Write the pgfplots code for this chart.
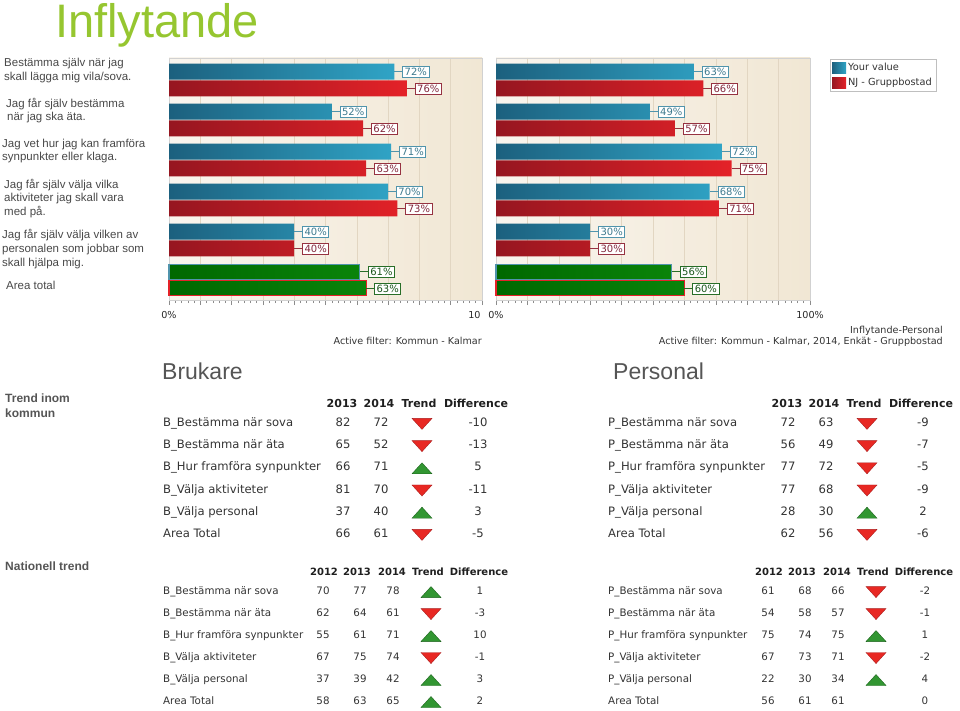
\documentclass[border=0pt]{standalone}
\usepackage{pgfplots}
\pgfplotsset{compat=1.18}
\usepackage{pgfplotstable}
\usepackage{fontspec}
\setmainfont{Liberation Sans}
\newfontfamily\dv{DejaVu Sans}
\definecolor{titlegreen}{RGB}{150,198,48}
\definecolor{txtgray}{RGB}{85,85,85}
\definecolor{lblgray}{RGB}{72,72,72}
\definecolor{blueA}{RGB}{28,96,126}
\definecolor{blueB}{RGB}{48,164,198}
\definecolor{redA}{RGB}{150,22,32}
\definecolor{redB}{RGB}{228,34,40}
\definecolor{greenA}{RGB}{0,104,0}
\definecolor{greenB}{RGB}{10,132,10}
\definecolor{bgA}{RGB}{249,245,238}
\definecolor{bgB}{RGB}{241,231,212}
\definecolor{gridc}{RGB}{226,214,194}
\definecolor{bluelbl}{RGB}{80,148,172}
\definecolor{bluelbltxt}{RGB}{62,122,142}
\definecolor{redlbl}{RGB}{150,50,65}
\definecolor{redlbltxt}{RGB}{130,40,60}
\definecolor{greenlbl}{RGB}{40,110,40}
\definecolor{greenlbltxt}{RGB}{25,85,25}
\definecolor{triR}{RGB}{232,40,35}
\definecolor{triRd}{RGB}{170,30,30}
\definecolor{triG}{RGB}{50,150,50}
\definecolor{triGd}{RGB}{30,100,30}
\definecolor{sepc}{RGB}{190,190,190}
\definecolor{tabtxt}{RGB}{51,51,51}
\newcommand\tabf{\dv\fontsize{11.6}{13}\selectfont}
\newcommand\hdrf{\dv\bfseries\fontsize{11}{13}\selectfont}
\newcommand\tabfs{\dv\fontsize{10.3}{12}\selectfont}
\newcommand\hdrfs{\dv\bfseries\fontsize{10}{12}\selectfont}
\newcommand\lblf{\dv\fontsize{10}{11}\selectfont}
\newcommand\lgf{\dv\fontsize{9.8}{11}\selectfont}
\newcommand\smf{\dv\fontsize{9.6}{11}\selectfont}
\newcommand\leftf{\fontsize{11.5}{13}\selectfont}

\pgfdeclareplotmark{tup}{%
  \pgfpathmoveto{\pgfqpoint{-10pt}{-5.5pt}}%
  \pgfpathlineto{\pgfqpoint{10pt}{-5.5pt}}%
  \pgfpathlineto{\pgfqpoint{0pt}{5.5pt}}%
  \pgfpathclose\pgfusepathqfillstroke}
\pgfdeclareplotmark{tdown}{%
  \pgfpathmoveto{\pgfqpoint{-10pt}{5.5pt}}%
  \pgfpathlineto{\pgfqpoint{10pt}{5.5pt}}%
  \pgfpathlineto{\pgfqpoint{0pt}{-5.5pt}}%
  \pgfpathclose\pgfusepathqfillstroke}

\tikzset{lbl/.style 2 args={anchor=west, xshift=8pt, draw=#1, fill=white, text=#2, font=\lblf,
  inner xsep=2pt, inner ysep=1.8pt, line width=0.7pt,
  append after command={(\tikzlastnode.west) edge[draw=#1, line width=0.8pt] ++(-8pt,0pt)}}}

\pgfplotsset{
  /pgf/number format/assume math mode=true,
  barax/.style={scale only axis, height=242pt, xmin=0, xmax=100, ymin=0.45, ymax=6.5, y dir=reverse,
    axis background/.style={left color=bgA, right color=bgB},
    axis line style={draw=black!18},
    xtick={0,10,...,100}, minor x tick num=4, tick align=outside, xtick pos=left,
    major tick length=5pt, minor tick length=3pt,
    tick style={draw=black!45, line width=0.5pt},
    xmajorgrids, major grid style={draw=gridc, line width=0.6pt},
    ytick=\empty, xticklabel style={font=\smf, text=black!85, yshift=-3pt}, clip=false},
  tabax/.style={scale only axis, xmin=0, xmax=345, ymax=6.5, y dir=reverse,
    axis line style={draw=none}, xtick pos=right, xticklabel pos=right,
    major tick length=0pt, minor tick length=0pt,
    xticklabel style={font=\hdrf, text=black!88},
    ytick=\empty, yminorgrids, minor grid style={draw=sepc, line width=0.8pt}, clip=false},
  txtplot/.style={draw=none, mark=none, nodes near coords, point meta=explicit symbolic,
    every node near coord/.append style={anchor=mid, font=\tabf, text=tabtxt}},
  smalltxt/.style={every node near coord/.append style={font=\tabfs}},
  rowlbl/.style={every node near coord/.append style={anchor=mid west, inner xsep=0pt}},
  triplot/.style={scatter, only marks, scatter src=explicit symbolic,
    scatter/classes={u={mark=tup, fill=triG, draw=triGd}, d={mark=tdown, fill=triR, draw=triRd}, n={mark=none}}},
  blueb/.style={xbar, bar width=16pt, bar shift=0pt, draw=none, left color=blueA, right color=blueB,
    point meta=x, nodes near coords={\pgfmathprintnumber{\pgfplotspointmeta}\%},
    every node near coord/.append style={lbl={bluelbl}{bluelbltxt}},
    legend image code/.code={\fill[left color=blueA, right color=blueB] (0pt,-5.5pt) rectangle (14pt,5.5pt);}},
  redb/.style={xbar, bar width=16pt, bar shift=0pt, draw=none, left color=redA, right color=redB,
    point meta=x, nodes near coords={\pgfmathprintnumber{\pgfplotspointmeta}\%},
    every node near coord/.append style={lbl={redlbl}{redlbltxt}},
    legend image code/.code={\fill[left color=redA, right color=redB] (0pt,-5.5pt) rectangle (14pt,5.5pt);}},
  greenb/.style={xbar, bar width=15pt, bar shift=0pt, draw=#1, line width=1.1pt, left color=greenA, right color=greenB,
    point meta=x, nodes near coords={\pgfmathprintnumber{\pgfplotspointmeta}\%},
    every node near coord/.append style={lbl={greenlbl}{greenlbltxt}}, forget plot},
}

% Trend inom kommun
\pgfplotstableread{
row label a b diff trend
1 {B\_Bestämma när sova} 82 72 -10 d
2 {B\_Bestämma när äta} 65 52 -13 d
3 {B\_Hur framföra synpunkter} 66 71 5 u
4 {B\_Välja aktiviteter} 81 70 -11 d
5 {B\_Välja personal} 37 40 3 u
6 {Area Total} 66 61 -5 d
}\tabA
\pgfplotstableread{
row label a b diff trend
1 {P\_Bestämma när sova} 72 63 -9 d
2 {P\_Bestämma när äta} 56 49 -7 d
3 {P\_Hur framföra synpunkter} 77 72 -5 d
4 {P\_Välja aktiviteter} 77 68 -9 d
5 {P\_Välja personal} 28 30 2 u
6 {Area Total} 62 56 -6 d
}\tabB
% Nationell trend
\pgfplotstableread{
row label a b c diff trend
1 {B\_Bestämma när sova} 70 77 78 1 u
2 {B\_Bestämma när äta} 62 64 61 -3 d
3 {B\_Hur framföra synpunkter} 55 61 71 10 u
4 {B\_Välja aktiviteter} 67 75 74 -1 d
5 {B\_Välja personal} 37 39 42 3 u
6 {Area Total} 58 63 65 2 u
}\tabC
\pgfplotstableread{
row label a b c diff trend
1 {P\_Bestämma när sova} 61 68 66 -2 d
2 {P\_Bestämma när äta} 54 58 57 -1 d
3 {P\_Hur framföra synpunkter} 75 74 75 1 u
4 {P\_Välja aktiviteter} 67 73 71 -2 d
5 {P\_Välja personal} 22 30 34 4 u
6 {Area Total} 56 61 61 0 n
}\tabD

\begin{document}
\begin{tikzpicture}
% title and side texts
\node[anchor=base west, inner sep=0pt, text=titlegreen, font=\fontsize{47}{50}\selectfont] at (55pt,-38pt) {Inflytande};
\begin{scope}[every node/.style={anchor=base west, inner sep=0pt, text=lblgray, font=\leftf}]
\node at (4pt,-67pt) {Bestämma själv när jag};
\node at (4pt,-81pt) {skall lägga mig vila/sova.};
\node at (6pt,-108pt) {Jag får själv bestämma};
\node at (7pt,-121pt) {när jag ska äta.};
\node at (2pt,-148pt) {Jag vet hur jag kan framföra};
\node at (2pt,-161pt) {synpunkter eller klaga.};
\node at (4pt,-189pt) {Jag får själv välja vilka};
\node at (4pt,-202pt) {aktiviteter jag skall vara};
\node at (4pt,-216pt) {med på.};
\node at (2pt,-239pt) {Jag får själv välja vilken av};
\node at (2pt,-252pt) {personalen som jobbar som};
\node at (2pt,-266pt) {skall hjälpa mig.};
\node at (6pt,-289pt) {Area total};
\end{scope}
\begin{scope}[every node/.style={anchor=base west, inner sep=0pt, text=txtgray, font=\bfseries\fontsize{12}{14}\selectfont}]
\node at (5pt,-402pt) {Trend inom};
\node at (5pt,-417pt) {kommun};
\node at (5pt,-570pt) {Nationell trend};
\end{scope}
\node[anchor=base west, inner sep=0pt, text=txtgray, font=\fontsize{23}{26}\selectfont] at (162pt,-379pt) {Brukare};
\node[anchor=base west, inner sep=0pt, text=txtgray, font=\fontsize{23}{26}\selectfont] at (613pt,-379pt) {Personal};
\begin{scope}[every node/.style={anchor=base east, inner sep=0pt, text=black!80, font=\smf}]
\node at (482pt,-344.5pt) {Active filter: Kommun - Kalmar};
\node at (943pt,-333.5pt) {Inflytande-Personal};
\node at (943pt,-344.5pt) {Active filter: Kommun - Kalmar, 2014, Enkät - Gruppbostad};
\end{scope}

% Bar chart: Brukare (bars of each question at its index -/+ 0.211)
\begin{axis}[barax, at={(169pt,-58pt)}, anchor=north west, width=313pt,
  xticklabels={0\%,{},{},{},{},{},{},{},{},{},10\phantom{0\%}}]
\addplot[blueb] coordinates {(72,0.789) (52,1.789) (71,2.789) (70,3.789) (40,4.789)};
\addplot[redb] coordinates {(76,1.211) (62,2.211) (63,3.211) (73,4.211) (40,5.211)};
\addplot[greenb=bluelbl] coordinates {(61,5.789)};
\addplot[greenb=redB] coordinates {(63,6.211)};
\end{axis}

% Bar chart: Personal
\begin{axis}[barax, at={(496pt,-58pt)}, anchor=north west, width=314pt,
  xticklabels={0\%,{},{},{},{},{},{},{},{},{},100\%},
  legend style={at={(1.0635,0.996)}, anchor=north west, draw=black!25, fill=white, font=\lgf,
    text=black!80, inner xsep=2pt, inner ysep=2pt, row sep=2pt,
    /tikz/every even column/.append style={column sep=2pt}},
  legend cell align=left]
\addplot[blueb] coordinates {(63,0.789) (49,1.789) (72,2.789) (68,3.789) (30,4.789)};
\addlegendentry{Your value}
\addplot[redb] coordinates {(66,1.211) (57,2.211) (75,3.211) (71,4.211) (30,5.211)};
\addlegendentry{NJ - Gruppbostad}
\addplot[greenb=bluelbl] coordinates {(56,5.789)};
\addplot[greenb=redB] coordinates {(60,6.211)};
\end{axis}

% Table: Brukare, kommun
\begin{axis}[tabax, at={(163pt,-411pt)}, anchor=north west, width=345pt, height=135pt,
  ymin=0.42, minor ytick={0.42,1.41,2.41,3.41,4.41,5.41},
  xtick={179,216,256,313}, xticklabels={2013,2014,Trend,Difference}]
\addplot[txtplot, rowlbl] table[x expr=0, y=row, meta=label] {\tabA};
\addplot[txtplot] table[x expr=180, y=row, meta=a] {\tabA};
\addplot[txtplot] table[x expr=218, y=row, meta=b] {\tabA};
\addplot[txtplot] table[x expr=315, y=row, meta=diff] {\tabA};
\addplot[triplot] table[x expr=259, y=row, meta=trend] {\tabA};
\end{axis}

% Table: Personal, kommun
\begin{axis}[tabax, at={(608pt,-411pt)}, anchor=north west, width=345pt, height=135pt,
  ymin=0.42, minor ytick={0.42,1.41,2.41,3.41,4.41,5.41},
  xtick={179,216,256,313}, xticklabels={2013,2014,Trend,Difference}]
\addplot[txtplot, rowlbl] table[x expr=0, y=row, meta=label] {\tabB};
\addplot[txtplot] table[x expr=180, y=row, meta=a] {\tabB};
\addplot[txtplot] table[x expr=218, y=row, meta=b] {\tabB};
\addplot[txtplot] table[x expr=315, y=row, meta=diff] {\tabB};
\addplot[triplot] table[x expr=259, y=row, meta=trend] {\tabB};
\end{axis}

% Table: Brukare, nationell
\begin{axis}[tabax, at={(163pt,-578pt)}, anchor=north west, width=345pt, height=135pt,
  ymin=0.36, minor ytick={0.36,1.41,2.41,3.41,4.41,5.41},
  xticklabel style={font=\hdrfs, inner ysep=2pt},
  xtick={161,194,229,265,316}, xticklabels={2012,2013,2014,Trend,Difference}]
\addplot[txtplot, smalltxt, rowlbl] table[x expr=0, y=row, meta=label] {\tabC};
\addplot[txtplot, smalltxt] table[x expr=160, y=row, meta=a] {\tabC};
\addplot[txtplot, smalltxt] table[x expr=197, y=row, meta=b] {\tabC};
\addplot[txtplot, smalltxt] table[x expr=230, y=row, meta=c] {\tabC};
\addplot[txtplot, smalltxt] table[x expr=317, y=row, meta=diff] {\tabC};
\addplot[triplot] table[x expr=268, y=row, meta=trend] {\tabC};
\end{axis}

% Table: Personal, nationell
\begin{axis}[tabax, at={(608pt,-578pt)}, anchor=north west, width=345pt, height=135pt,
  ymin=0.36, minor ytick={0.36,1.41,2.41,3.41,4.41,5.41},
  xticklabel style={font=\hdrfs, inner ysep=2pt},
  xtick={161,194,229,265,316}, xticklabels={2012,2013,2014,Trend,Difference}]
\addplot[txtplot, smalltxt, rowlbl] table[x expr=0, y=row, meta=label] {\tabD};
\addplot[txtplot, smalltxt] table[x expr=160, y=row, meta=a] {\tabD};
\addplot[txtplot, smalltxt] table[x expr=197, y=row, meta=b] {\tabD};
\addplot[txtplot, smalltxt] table[x expr=230, y=row, meta=c] {\tabD};
\addplot[txtplot, smalltxt] table[x expr=317, y=row, meta=diff] {\tabD};
\addplot[triplot] table[x expr=268, y=row, meta=trend] {\tabD};
\end{axis}

\pgfresetboundingbox
\path[use as bounding box] (0pt,0pt) rectangle (960pt,-711pt);
\end{tikzpicture}
\end{document}
